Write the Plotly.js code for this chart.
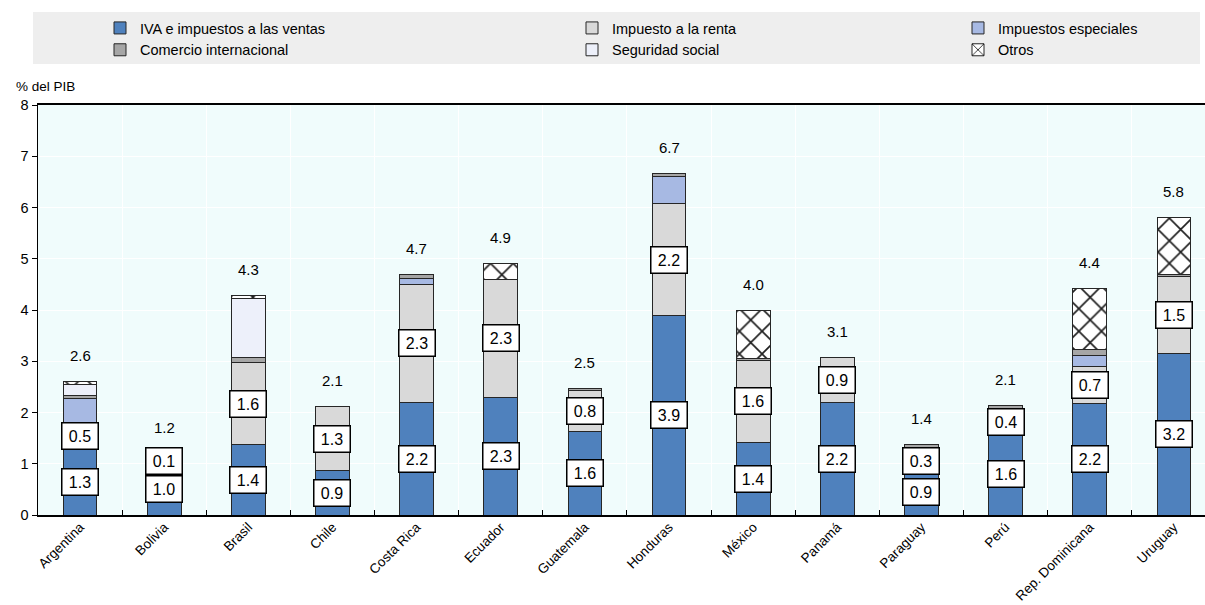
<!DOCTYPE html>
<html>
<head>
<meta charset="utf-8">
<script src="https://cdn.plot.ly/plotly-3.0.1.min.js"></script>
<style>
html,body{margin:0;padding:0;background:#fff;overflow:hidden;}
#chart{width:1205px;height:605px;}
</style>
</head>
<body>
<div id="chart"></div>
<script>
const countries = ["Argentina","Bolivia","Brasil","Chile","Costa Rica","Ecuador","Guatemala","Honduras","México","Panamá","Paraguay","Perú","Rep. Dominicana","Uruguay"];
const iva        = [1.30,1.00,1.37,0.86,2.20,2.30,1.62,3.90,1.42,2.20,0.90,1.60,2.17,3.16];
const renta      = [0.50,0.10,1.60,1.26,2.30,2.29,0.80,2.17,1.60,0.88,0.30,0.42,0.72,1.50];
const especiales = [0.48,0.05,0.00,0.00,0.12,0.00,0.00,0.53,0.00,0.00,0.10,0.03,0.22,0.00];
const comercio   = [0.06,0.05,0.11,0.00,0.08,0.00,0.05,0.07,0.03,0.00,0.08,0.08,0.12,0.04];
const seguridad  = [0.20,0.00,1.15,0.00,0.00,0.00,0.00,0.00,0.00,0.00,0.00,0.00,0.00,0.00];
const otros      = [0.07,0.00,0.06,0.00,0.00,0.31,0.00,0.00,0.95,0.00,0.00,0.00,1.19,1.11];

const seriesNames = ["IVA e impuestos a las ventas","Impuesto a la renta","Impuestos especiales","Comercio internacional","Seguridad social","Otros"];

const FONT = "Liberation Sans, Arial, sans-serif";
const edge = {color:"#262626", width:1};
const W = 1205, H = 605;

function bar(name, y, color, legend, extra){
  const m = Object.assign({color:color, line:edge}, extra||{});
  return {type:"bar", name:name, x:countries, y:y, width:0.4, marker:m, legend:legend, hoverinfo:"skip"};
}

const traces = [
  bar(seriesNames[0], iva, "#4f81bd", "legend"),
  bar(seriesNames[1], renta, "#d9d9d9", "legend2"),
  bar(seriesNames[2], especiales, "#a7b9e3", "legend3"),
  bar(seriesNames[3], comercio, "#a6a6a6", "legend"),
  bar(seriesNames[4], seguridad, "#edf0fa", "legend2"),
  bar(seriesNames[5], otros, "#ffffff", "legend3",
      {pattern:{shape:"x", size:16, solidity:0.2, fgcolor:"#1f1f1f", bgcolor:"#ffffff", fillmode:"replace"}})
];

const r1 = v => (Math.round(v*10)/10).toFixed(1);
const annotations = [];
countries.forEach((c,i)=>{
  const total = iva[i]+renta[i]+especiales[i]+comercio[i]+seguridad[i]+otros[i];
  annotations.push({x:c, y:total, xref:"x", yref:"y", text:r1(total), showarrow:false,
    yshift:26, font:{family:FONT, size:15, color:"#000"}});
  const boxed = (yc, v) => ({x:c, y:yc, xref:"x", yref:"y", text:r1(v), showarrow:false,
    font:{family:FONT, size:16, color:"#000"}, bgcolor:"#ffffff", bordercolor:"#000000",
    borderwidth:1.5, borderpad:3, width:29, height:19});
  annotations.push(boxed(iva[i]/2, iva[i]));
  annotations.push(boxed(iva[i]+renta[i]/2, renta[i]));
});
annotations.push({xref:"paper", yref:"paper", x:-24/1167, y:1+18/410, xanchor:"left", yanchor:"middle",
  text:"% del PIB", showarrow:false, font:{family:FONT, size:13.5, color:"#000"}});

const legendBase = {orientation:"v", xref:"container", yref:"container", xanchor:"left", yanchor:"top",
  bgcolor:"rgba(0,0,0,0)", font:{family:FONT, size:14.5, color:"#000"}, tracegroupgap:0, itemwidth:30,
  traceorder:"normal", itemclick:false, itemdoubleclick:false};

const layout = {
  width:W, height:H,
  margin:{l:38, r:0, t:105, b:90, autoexpand:false},
  paper_bgcolor:"#ffffff",
  plot_bgcolor:"#f0fcfc",
  barmode:"stack",
  bargap:0.6,
  font:{family:FONT, size:14, color:"#000"},
  showlegend:true,
  legend: Object.assign({}, legendBase, {x:100/W, y:1-12/H}),
  legend2: Object.assign({}, legendBase, {x:572/W, y:1-12/H}),
  legend3: Object.assign({}, legendBase, {x:958/W, y:1-12/H}),
  xaxis:{type:"category", range:[-0.5,13.37], tickangle:-45, tickson:"boundaries",
    ticks:"inside", ticklen:5, tickcolor:"#000", showgrid:true, gridcolor:"#ffffff", gridwidth:1,
    showline:true, linecolor:"#000", linewidth:2, mirror:true, ticklabelstandoff:-3,
    tickfont:{family:FONT, size:13.5, color:"#000"}, fixedrange:true},
  yaxis:{range:[0,8], dtick:1, ticks:"outside", ticklen:5, tickcolor:"#000",
    showgrid:true, gridcolor:"#ffffff", gridwidth:1, zeroline:false,
    showline:true, linecolor:"#000", linewidth:1.5, mirror:true,
    tickfont:{family:FONT, size:14.5, color:"#000"}, fixedrange:true},
  shapes:[{type:"rect", xref:"paper", yref:"paper", layer:"below",
    x0:-5/1167, x1:1162/1167, y0:1+(105-12)/410, y1:1+(105-64)/410,
    fillcolor:"#eeeeee", line:{width:0}}],
  annotations:annotations
};

Plotly.newPlot("chart", traces, layout, {displayModeBar:false, staticPlot:true});
</script>
</body>
</html>
